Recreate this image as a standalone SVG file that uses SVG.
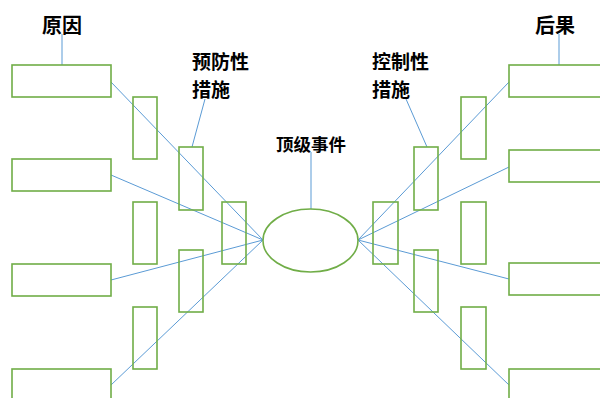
<svg xmlns="http://www.w3.org/2000/svg" width="600" height="398" viewBox="0 0 600 398">
<style>
.box{fill:none;stroke:#70AD47;stroke-width:1.6}
.ln{stroke:#5B9BD5;stroke-width:1;fill:none}
.t{font-family:"Noto Sans CJK SC","Liberation Sans",sans-serif;font-weight:bold;fill:#000}
</style>
<rect width="600" height="398" fill="#fff"/>
<g id="connectors">
<line class="ln" x1="62" y1="34" x2="62" y2="65"/>
<line class="ln" x1="559" y1="34" x2="559" y2="65"/>
<line class="ln" x1="205" y1="99" x2="192" y2="147"/>
<line class="ln" x1="406" y1="99" x2="427" y2="147"/>
<line class="ln" x1="311" y1="152" x2="311" y2="209"/>
<line class="ln" x1="111" y1="82" x2="263" y2="240"/>
<line class="ln" x1="111" y1="175" x2="263" y2="240"/>
<line class="ln" x1="111" y1="280" x2="263" y2="240"/>
<line class="ln" x1="111" y1="385" x2="263" y2="240"/>
<line class="ln" x1="509" y1="82" x2="358" y2="240"/>
<line class="ln" x1="509" y1="167" x2="358" y2="240"/>
<line class="ln" x1="509" y1="279" x2="358" y2="240"/>
<line class="ln" x1="509" y1="385" x2="358" y2="240"/>
</g>
<g id="cause1"><rect class="box" x="12" y="65" width="99" height="32"/></g>
<g id="cause2"><rect class="box" x="12" y="159" width="99" height="32"/></g>
<g id="cause3"><rect class="box" x="12" y="264" width="99" height="32"/></g>
<g id="cause4"><rect class="box" x="12" y="369" width="99" height="40"/></g>
<g id="pa1"><rect class="box" x="133" y="97" width="24" height="62"/></g>
<g id="pa2"><rect class="box" x="133" y="202" width="24" height="62"/></g>
<g id="pa3"><rect class="box" x="133" y="307" width="24" height="62"/></g>
<g id="pb1"><rect class="box" x="179" y="147" width="24" height="63"/></g>
<g id="pb2"><rect class="box" x="179" y="250" width="24" height="62"/></g>
<g id="pc1"><rect class="box" x="222" y="202" width="24" height="62"/></g>
<g id="cc1"><rect class="box" x="373" y="202" width="25" height="62"/></g>
<g id="cb1"><rect class="box" x="414" y="147" width="24" height="63"/></g>
<g id="cb2"><rect class="box" x="414" y="250" width="24" height="62"/></g>
<g id="ca1"><rect class="box" x="461" y="97" width="25" height="62"/></g>
<g id="ca2"><rect class="box" x="461" y="202" width="25" height="62"/></g>
<g id="ca3"><rect class="box" x="461" y="307" width="25" height="62"/></g>
<g id="cons1"><rect class="box" x="509" y="65" width="99" height="32"/></g>
<g id="cons2"><rect class="box" x="509" y="150" width="99" height="32"/></g>
<g id="cons3"><rect class="box" x="509" y="263" width="99" height="32"/></g>
<g id="cons4"><rect class="box" x="509" y="369" width="99" height="40"/></g>
<g id="top-event"><ellipse class="box" cx="310.5" cy="240.5" rx="47.5" ry="31.5"/></g>
<g id="labels">
<text class="t" x="62" y="33" font-size="20" text-anchor="middle">原因</text>
<text class="t" x="555" y="33" font-size="20" text-anchor="middle">后果</text>
<text class="t" x="192" y="69" font-size="19">预防性</text>
<text class="t" x="192" y="97" font-size="19">措施</text>
<text class="t" x="372" y="69" font-size="19">控制性</text>
<text class="t" x="372" y="97" font-size="19">措施</text>
<text class="t" x="311" y="151" font-size="17.5" text-anchor="middle">顶级事件</text>
</g>
</svg>
